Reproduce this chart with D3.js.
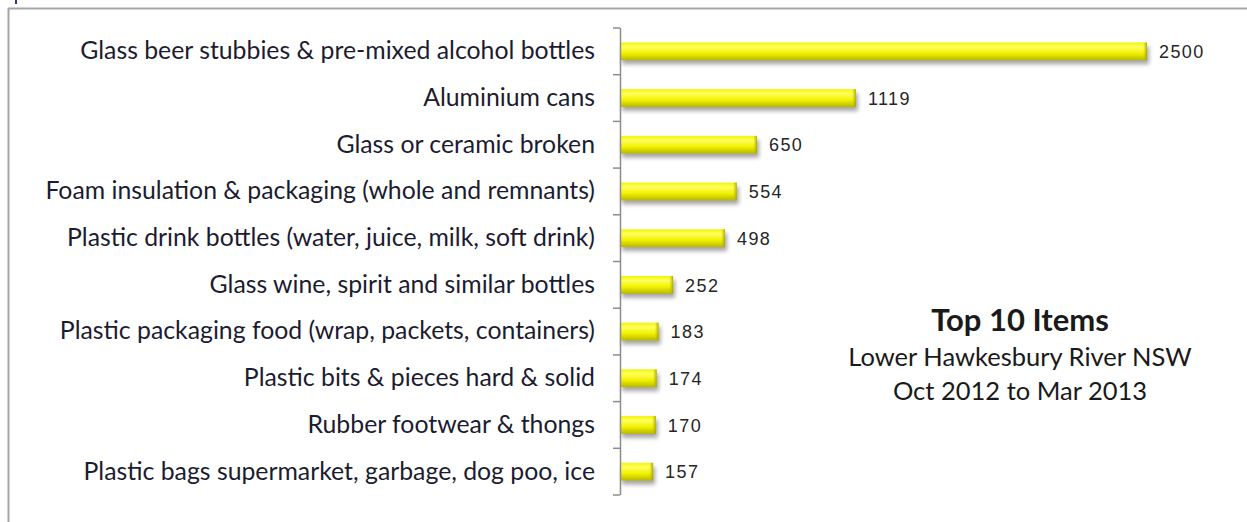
<!DOCTYPE html>
<html>
<head>
<meta charset="utf-8">
<script src="https://cdn.jsdelivr.net/npm/d3@7"></script>
<style>
  body { margin: 0; background: #fff; }
  svg { display: block; }
</style>
</head>
<body>
<svg id="chart" width="1247" height="522"></svg>
<script>
// data
var categories = [
  "Glass beer stubbies & pre-mixed alcohol bottles",
  "Aluminium cans",
  "Glass or ceramic broken",
  "Foam insulation & packaging (whole and remnants)",
  "Plastic drink bottles (water, juice, milk, soft drink)",
  "Glass wine, spirit and similar bottles",
  "Plastic packaging food (wrap, packets, containers)",
  "Plastic bits & pieces hard & solid",
  "Rubber footwear & thongs",
  "Plastic bags supermarket, garbage, dog poo, ice"
];
var counts = [2500, 1119, 650, 554, 498, 252, 183, 174, 170, 157];
var titleLines = ["Top 10 Items", "Lower Hawkesbury River NSW", "Oct 2012 to Mar 2013"];

var W = 1247, H = 522;
var svg = d3.select("#chart");

// frame
svg.append("line").attr("x1", 8).attr("x2", W).attr("y1", 8.5).attr("y2", 8.5)
  .attr("stroke", "#a6a6a6").attr("stroke-width", 2);
svg.append("line").attr("x1", 8.5).attr("x2", 8.5).attr("y1", 8).attr("y2", H)
  .attr("stroke", "#a6a6a6").attr("stroke-width", 2);
svg.append("rect").attr("x", 15).attr("y", 0).attr("width", 2).attr("height", 4).attr("fill", "#1f3d8a");

var x = d3.scaleLinear().domain([0, 2500]).range([620, 1147]);
var y = d3.scaleBand().domain(categories).range([28, 495]).paddingInner(0.62).paddingOuter(0.31);

var defs = svg.append("defs");
var grad = defs.append("linearGradient").attr("id", "barfill")
  .attr("x1", 0).attr("y1", 0).attr("x2", 0).attr("y2", 1);
grad.append("stop").attr("offset", "0%").attr("stop-color", "#f4f400");
grad.append("stop").attr("offset", "25%").attr("stop-color", "#ffff60");
grad.append("stop").attr("offset", "60%").attr("stop-color", "#f2f200");
grad.append("stop").attr("offset", "100%").attr("stop-color", "#b8b800");

var endGrad = defs.append("linearGradient").attr("id", "barend")
  .attr("x1", 0).attr("y1", 0).attr("x2", 1).attr("y2", 0);
endGrad.append("stop").attr("offset", "0%").attr("stop-color", "#c8c800").attr("stop-opacity", 0);
endGrad.append("stop").attr("offset", "100%").attr("stop-color", "#a0a000").attr("stop-opacity", 0.9);

var shadow = defs.append("filter").attr("id", "shadow")
  .attr("x", "-10%").attr("y", "-50%").attr("width", "130%").attr("height", "220%");
shadow.append("feGaussianBlur").attr("stdDeviation", 2.2);

var bars = svg.append("g").selectAll("g").data(counts).enter().append("g");

bars.append("rect")
  .attr("x", x(0) + 2)
  .attr("y", function(d, i) { return y(categories[i]) + 4; })
  .attr("width", function(d) { return x(d) - x(0); })
  .attr("height", y.bandwidth())
  .attr("fill", "#000").attr("opacity", 0.35)
  .attr("filter", "url(#shadow)");

bars.append("rect")
  .attr("x", x(0))
  .attr("y", function(d, i) { return y(categories[i]); })
  .attr("width", function(d) { return x(d) - x(0); })
  .attr("height", y.bandwidth())
  .attr("fill", "url(#barfill)");

bars.append("rect")
  .attr("x", function(d) { return x(d) - 4; })
  .attr("y", function(d, i) { return y(categories[i]); })
  .attr("width", 4)
  .attr("height", y.bandwidth())
  .attr("fill", "url(#barend)");

bars.append("text")
  .attr("x", function(d) { return x(d) + 12; })
  .attr("y", function(d, i) { return y(categories[i]) + y.bandwidth() / 2; })
  .attr("dy", "0.37em")
  .attr("font-family", "Liberation Sans, Arial, sans-serif")
  .attr("font-size", 18)
  .attr("letter-spacing", 1.4)
  .attr("fill", "#262626")
  .text(function(d) { return d; });

// category axis
var yAxis = d3.axisLeft(y).tickSize(0).tickPadding(25);
var ax = svg.append("g").attr("transform", "translate(620,0)").call(yAxis);
ax.select(".domain").remove();
ax.selectAll("text")
  .attr("font-family", "Lato, Open Sans, sans-serif")
  .attr("font-size", 24.8)
  .attr("fill", "#1c1c30");

svg.append("line").attr("x1", 620.5).attr("x2", 620.5).attr("y1", 28).attr("y2", 495)
  .attr("stroke", "#8c8c8c").attr("stroke-width", 1.5);
var sep = d3.range(categories.length + 1).map(function(i) { return 28 + i * (495 - 28) / categories.length; });
svg.append("g").selectAll("line").data(sep).enter().append("line")
  .attr("x1", 613).attr("x2", 620)
  .attr("y1", function(d) { return d; }).attr("y2", function(d) { return d; })
  .attr("stroke", "#8c8c8c").attr("stroke-width", 1.5);

// title block
svg.append("g").selectAll("text").data(titleLines).enter().append("text")
  .attr("x", 1020)
  .attr("y", function(d, i) { return [331, 366, 400][i]; })
  .attr("text-anchor", "middle")
  .attr("font-family", "Lato, Open Sans, sans-serif")
  .attr("font-weight", function(d, i) { return i === 0 ? "bold" : "normal"; })
  .attr("font-size", function(d, i) { return i === 0 ? 31 : 25.5; })
  .attr("fill", "#1a1a1a")
  .text(function(d) { return d; });
</script>
</body>
</html>
